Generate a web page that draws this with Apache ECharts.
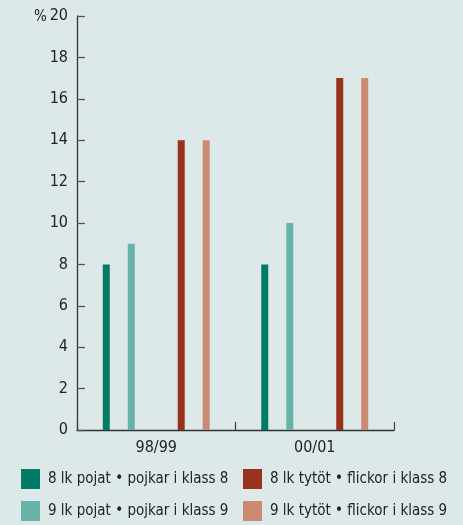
<!DOCTYPE html>
<html><head><meta charset="utf-8">
<script src="https://cdn.jsdelivr.net/npm/echarts@6/dist/echarts.min.js"></script>
<style>html,body{margin:0;padding:0;background:#dde9e8;}#c{width:463px;height:525px;}</style>
</head><body><div id="c"></div>
<script>
const categories = ['98/99', '00/01'];
const boys8 = [8, 8];
const boys9 = [9, 10];
const girls8 = [14, 17];
const girls9 = [14, 17];
const yTicks = [0, 2, 4, 6, 8, 10, 12, 14, 16, 18, 20];
const names = ['8 lk pojat • pojkar i klass 8', '9 lk pojat • pojkar i klass 9', '8 lk tytöt • flickor i klass 8', '9 lk tytöt • flickor i klass 9'];
const colors = ['#007b66', '#69b2a7', '#99311f', '#cd8a72'];
const FONT = '"Liberation Sans Narrow", "DejaVu Sans Condensed", sans-serif';

const chart = echarts.init(document.getElementById('c'));
function bar(name, data, color) {
  return { name, type: 'bar', data, barWidth: 7, barGap: '257%', itemStyle: { color }, emphasis: { disabled: true } };
}
function leg(name, left, top) {
  return { data: [name], orient: 'horizontal', left, top, padding: 0, itemWidth: 19, itemHeight: 20, icon: 'rect',
    textStyle: { fontSize: 15, color: '#222', fontFamily: FONT, padding: [0, 0, 0, 3] }, selectedMode: false };
}
chart.setOption({
  backgroundColor: '#dde9e8',
  animation: false,
  textStyle: { fontFamily: FONT },
  grid: { left: 77, right: 69, top: 16, bottom: 95 },
  xAxis: {
    type: 'category', data: categories,
    axisLine: { lineStyle: { color: '#333', width: 1.3 } },
    axisTick: { show: true, inside: true, length: 8, lineStyle: { color: '#444', width: 1.3 } },
    axisLabel: { color: '#222', fontSize: 16, margin: 10, fontFamily: FONT }
  },
  yAxis: {
    type: 'value', min: yTicks[0], max: yTicks[yTicks.length - 1], interval: 2,
    splitLine: { show: false },
    axisLine: { show: true, lineStyle: { color: '#333', width: 1.3 } },
    axisTick: { show: true, inside: true, length: 8, lineStyle: { color: '#555', width: 1.3 } },
    axisLabel: { color: '#222', fontSize: 16, margin: 9, fontFamily: FONT }
  },
  legend: [
    leg(names[0], 21, 469),
    leg(names[2], 243, 469),
    leg(names[1], 21, 501),
    leg(names[3], 243, 501)
  ],
  graphic: [{ type: 'text', left: 34, top: 10, style: { text: '%', fontSize: 15, fill: '#222', fontFamily: FONT } }],
  series: [
    bar(names[0], boys8, colors[0]),
    bar(names[1], boys9, colors[1]),
    { name: 'gap', type: 'bar', data: [null, null], barWidth: 7, barGap: '257%' },
    bar(names[2], girls8, colors[2]),
    bar(names[3], girls9, colors[3])
  ]
});
</script></body></html>
